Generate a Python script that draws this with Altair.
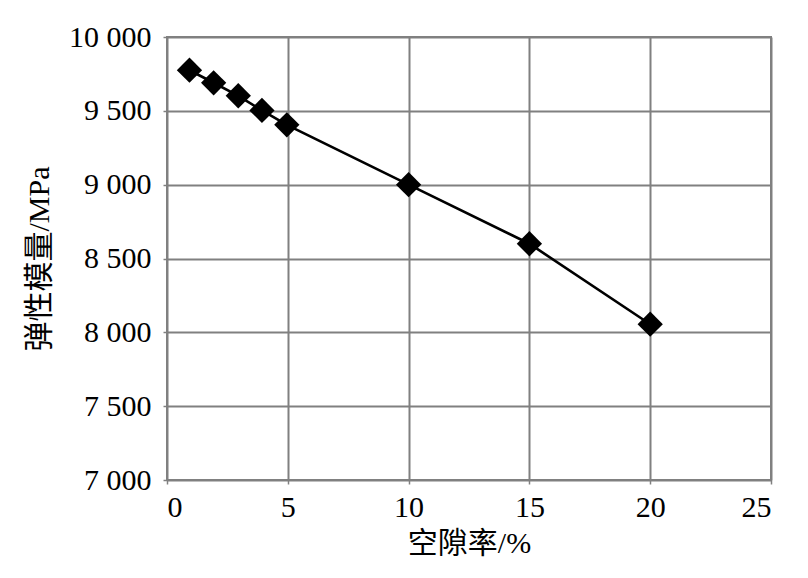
import altair as alt
import pandas as pd

void_ratio = [0.93, 1.93, 2.95, 3.93, 4.96, 10, 15, 20]
modulus = [9775, 9690, 9602, 9503, 9405, 9000, 8600, 8055]

df = pd.DataFrame({"x": void_ratio, "y": modulus})

FONT = "Times New Roman, Liberation Serif, serif"
TFONT = "Times New Roman, Liberation Serif, Noto Sans CJK SC, serif"

base = alt.Chart(df).encode(
    x=alt.X("x:Q", title="空隙率/%",
            scale=alt.Scale(domain=[0, 25], nice=False),
            axis=alt.Axis(values=[0, 5, 10, 15, 20, 25], labelPadding=8,
                          titlePadding=6)),
    y=alt.Y("y:Q", title="弹性模量/MPa",
            scale=alt.Scale(domain=[7000, 10000], nice=False, zero=False),
            axis=alt.Axis(values=[7000, 7500, 8000, 8500, 9000, 9500, 10000],
                          labelExpr="replace(format(datum.value, ','), ',', ' ')",
                          labelPadding=12, titlePadding=14)),
)

line = base.mark_line(color="black", strokeWidth=2.6)
pts = base.mark_point(shape="diamond", filled=True, color="black", size=640, opacity=1)

chart = (line + pts).properties(
    width=604, height=443,
    background="white",
    autosize=alt.AutoSizeParams(type="none"),
    padding={"left": 159, "top": 29, "right": 29, "bottom": 90},
).configure_axis(
    labelFont=FONT, titleFont=TFONT,
    labelFontSize=30, titleFontSize=30,
    labelColor="black", titleColor="black",
    titleFontWeight="normal",
    grid=True, gridColor="#808080", gridWidth=2, gridOpacity=1,
    domain=False, ticks=True, tickColor="#808080", tickSize=4, tickWidth=1.5,
).configure_view(
    stroke="#808080", strokeWidth=2
)

chart.save("out.html", embed_options={"renderer": "svg", "actions": False})
